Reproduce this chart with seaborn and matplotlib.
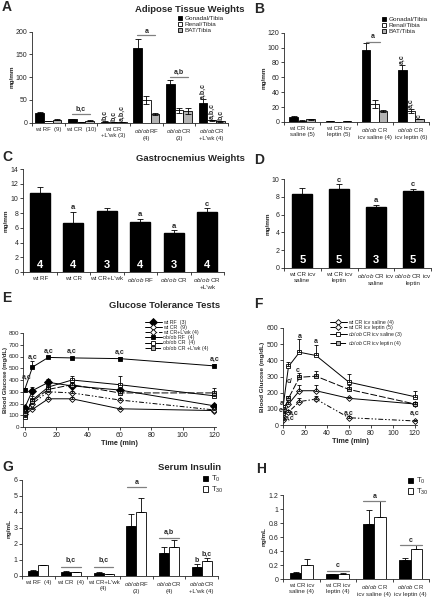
import numpy as np
import pandas as pd
import matplotlib
matplotlib.use("Agg")
import matplotlib.pyplot as plt
import seaborn as sns

# Style
sns.set_style("ticks")
plt.rcParams["font.family"] = ["Liberation Sans", "DejaVu Sans"]
plt.rcParams["mathtext.fontset"] = "custom"
plt.rcParams["mathtext.rm"] = "Liberation Sans"
plt.rcParams["mathtext.it"] = "Liberation Sans:italic"
plt.rcParams["axes.linewidth"] = 0.6

W, H = 432, 599
OB = r"$\it{ob/ob}$"

# ---- Data ----
# A: adipose weights (mg/mm)
a_groups = ["wt RF  (9)", "wt CR  (10)", "wt CR\n+L'wk (3)",
            OB + "RF\n(4)", OB + "CR\n(3)", OB + "CR\n+L'wk (4)"]
a_gonadal = [22, 8, 2.5, 165, 84, 44]
a_gonadal_err = [1.5, 1, 0.5, 20, 9, 7]
a_renal = [4, 1.5, 1, 50, 27, 5]
a_renal_err = [0.5, 0.3, 0.2, 9, 6, 1.5]
a_bat = [7, 4.5, 1, 19, 26, 3]
a_bat_err = [1, 0.5, 0.3, 2, 6, 0.5]

# B
b_groups = ["wt CR icv\nsaline (5)", "wt CR icv\nleptin (5)",
            OB + " CR\nicv saline (4)", OB + " CR\nicv leptin (6)"]
b_gonadal = [7, 1, 97, 70]
b_gonadal_err = [0.8, 0.2, 9, 6]
b_renal = [2, 0.5, 24, 15]
b_renal_err = [0.3, 0.1, 5, 3]
b_bat = [3.5, 1.5, 15, 4]
b_bat_err = [0.5, 0.3, 1.5, 0.5]

tissue_names = ["Gonadal/Tibia", "Renal/Tibia", "BAT/Tibia"]
tissue_colors = ["black", "white", "#b3b3b3"]

# C: gastrocnemius
c_groups = ["wt RF", "wt CR", "wt CR+L'wk", OB + " RF", OB + " CR", OB + " CR\n+L'wk"]
c_vals = [10.7, 6.7, 8.3, 6.8, 5.3, 8.2]
c_err = [0.9, 1.5, 0.45, 0.4, 0.4, 0.45]
c_n = [4, 4, 3, 4, 3, 4]
c_sig = ["", "a", "", "a", "a", "c"]

# D
d_groups = ["wt CR icv\nsaline", "wt CR icv\nleptin", OB + " CR icv\nsaline", OB + " CR icv\nleptin"]
d_vals = [8.3, 8.9, 6.85, 8.65]
d_err = [0.7, 0.5, 0.25, 0.25]
d_n = [5, 5, 3, 5]
d_sig = ["", "c", "a", "c"]

# E: GTT
times = [0, 5, 15, 30, 60, 120]
e_wt_rf = [160, 310, 380, 350, 315, 180]
e_wt_cr = [110, 150, 240, 240, 155, 140]
e_wt_crl = [130, 200, 300, 290, 230, 145]
e_ob_rf = [315, 510, 592, 588, 582, 520]
e_ob_cr = [85, 230, 340, 400, 360, 265]
e_ob_crl = [115, 220, 320, 360, 290, 290]
e_wt_rf_err = [20, 30, 30, 20, 30, 15]
e_wt_cr_err = [10, 10, 15, 15, 10, 10]
e_wt_crl_err = [10, 20, 20, 20, 15, 10]
e_ob_rf_err = [20, 50, 15, 10, 15, 20]
e_ob_cr_err = [10, 30, 40, 30, 70, 25]
e_ob_crl_err = [15, 20, 25, 20, 20, 40]
e_labels = ["wt RF  (3)", "wt CR  (9)", "wt CR+L'wk (4)", "ob/ob RF  (4)",
            "ob/ob CR  (4)", "ob/ob CR +L'wk (4)"]

# F
f_wt_sal = [40, 130, 212, 212, 165, 130]
f_wt_lep = [30, 80, 145, 160, 45, 25]
f_ob_sal = [110, 362, 450, 430, 265, 175]
f_ob_lep = [72, 165, 295, 302, 220, 130]
f_wt_sal_err = [5, 15, 35, 35, 10, 10]
f_wt_lep_err = [5, 10, 25, 20, 10, 5]
f_ob_sal_err = [15, 30, 80, 65, 50, 35]
f_ob_lep_err = [10, 15, 25, 30, 30, 10]
f_labels = ["wt CR icv saline (4)", "wt CR icv leptin (5)",
            OB + " CR icv saline (3)", OB + " CR icv leptin (4)"]

# G: serum insulin
g_groups = ["wt RF  (4)", "wt CR  (4)", "wt CR+L'wk\n(4)", OB + "RF\n(3)", OB + "CR\n(4)", OB + "CR\n+L'wk (4)"]
g_t0 = [0.32, 0.25, 0.2, 3.15, 1.45, 0.58]
g_t0_err = [0.05, 0.05, 0.07, 0.75, 0.35, 0.2]
g_t30 = [0.68, 0.22, 0.1, 3.97, 1.82, 0.92]
g_t30_err = [0.03, 0.05, 0.03, 0.9, 0.45, 0.22]

# H
h_groups = ["wt CR icv\nsaline (4)", "wt CR icv\nleptin (4)", OB + " CR\nicv saline (4)", OB + " CR\nicv leptin (4)"]
h_t0 = [0.09, 0.065, 0.79, 0.27]
h_t0_err = [0.01, 0.005, 0.2, 0.03]
h_t30 = [0.2, 0.07, 0.89, 0.43]
h_t30_err = [0.08, 0.02, 0.22, 0.05]

time_names = ["T$_0$", "T$_{30}$"]
time_colors = ["black", "white"]


def rect(x0, y0, x1, y1):
    return [x0 / W, 1 - y1 / H, (x1 - x0) / W, (y1 - y0) / H]


def style_ax(ax, ylabel, tsize=5, lsize=4.6):
    sns.despine(ax=ax)
    ax.tick_params(axis="y", labelsize=tsize, length=2, width=0.6, pad=1.2)
    ax.set_ylabel(ylabel, fontsize=lsize, weight="bold", labelpad=1.2)
    ax.set_xlabel("")


def excel_x(ax, n, size=4.3):
    ax.set_xlim(-0.5, n - 0.5)
    ax.set_xticks(np.arange(n + 1) - 0.5, minor=True)
    ax.tick_params(axis="x", which="major", length=0, labelsize=size, pad=3)
    ax.tick_params(axis="x", which="minor", length=2, width=0.6)


def grouped_bars(ax, groups, series, names, colors, width):
    rows = []
    for name, vals in zip(names, series):
        for g, v in zip(groups, vals):
            rows.append({"group": g, "series": name, "value": v})
    df = pd.DataFrame(rows)
    sns.barplot(data=df, x="group", y="value", hue="series", palette=colors,
                edgecolor="black", linewidth=0.6, width=width, errorbar=None, ax=ax)


def add_err(ax, errs, both=True, cap=1.5):
    conts = list(ax.containers)
    for cont, err in zip(conts, errs):
        xs = [b.get_x() + b.get_width() / 2 for b in cont]
        ys = [b.get_height() for b in cont]
        yerr = err if both else [np.zeros(len(err)), err]
        ax.errorbar(xs, ys, yerr=yerr, fmt="none", ecolor="black",
                    elinewidth=0.6, capsize=cap, capthick=0.6)


def bracket(ax, x0, x1, y, ytxt, txt):
    ax.plot([x0, x1], [y, y], color="#808080", lw=0.9)
    ax.text((x0 + x1) / 2, ytxt, txt, ha="center", va="center", fontsize=5, weight="bold")


def vtext(ax, x, y, txt):
    ax.text(x, y, txt, rotation=90, ha="center", va="bottom", fontsize=5, weight="bold")


def bar_legend(ax, loc_xy, fs=4.6):
    h, l = ax.get_legend_handles_labels()
    ax.legend(h, l, loc="upper left", bbox_to_anchor=loc_xy, bbox_transform=fig.transFigure,
              frameon=False, fontsize=fs, handlelength=0.7, handleheight=0.7,
              handletextpad=0.3, labelspacing=0.05, borderaxespad=0, borderpad=0)


fig = plt.figure(figsize=(W / 100, H / 100), dpi=100)

# ---- Titles and panel letters ----
for x, y, t in [(190, 9, "Adipose Tissue Weights"), (190, 158, "Gastrocnemius Weights"),
                (165, 305, "Glucose Tolerance Tests"), (190, 467, "Serum Insulin")]:
    fig.text(x / W, 1 - y / H, t, ha="center", va="center", fontsize=6.8, weight="bold")
for x, y, t in [(2, 7, "A"), (254, 9, "B"), (2, 157, "C"), (254, 160, "D"),
                (2, 298, "E"), (254, 304, "F"), (2, 467, "G"), (256, 469, "H")]:
    fig.text(x / W, 1 - y / H, t, ha="left", va="center", fontsize=10, weight="bold")

# ---- A ----
ax = fig.add_axes(rect(32, 31.7, 228, 122.7))
grouped_bars(ax, a_groups, [a_gonadal, a_renal, a_bat], tissue_names, tissue_colors, 0.8)
add_err(ax, [a_gonadal_err, a_renal_err, a_bat_err], both=True, cap=2.2)
ax.set_ylim(0, 200)
ax.set_yticks(range(0, 201, 50))
style_ax(ax, "mg/mm")
excel_x(ax, 6)
bar_legend(ax, (178 / W, 1 - 16 / H))
bracket(ax, 0.72, 1.28, 19, 29, "b,c")
bracket(ax, 2.72, 3.28, 193, 200, "a")
bracket(ax, 3.72, 4.28, 100, 110, "a,b")
for k, (yy, tt) in enumerate([(5, "b,c"), (3, "b,c"), (3, "a,b,c")]):
    vtext(ax, 2 + (k - 1) * 0.267, yy, tt)
for k, (yy, tt) in enumerate([(53, "a,b,c"), (8, "a,b,c"), (5, "b,c")]):
    vtext(ax, 5 + (k - 1) * 0.267, yy, tt)

# ---- B ----
ax = fig.add_axes(rect(284, 32.7, 429, 122))
grouped_bars(ax, b_groups, [b_gonadal, b_renal, b_bat], tissue_names, tissue_colors, 0.7)
add_err(ax, [b_gonadal_err, b_renal_err, b_bat_err], both=True, cap=2.2)
ax.set_ylim(0, 120)
ax.set_yticks(range(0, 121, 20))
style_ax(ax, "mg/mm")
excel_x(ax, 4)
bar_legend(ax, (382 / W, 1 - 17 / H))
bracket(ax, 1.77, 2.15, 108, 115, "a")
vtext(ax, 3 - 0.233, 78, "a,c")
vtext(ax, 3, 19, "a,c")
vtext(ax, 3 + 0.233, 6, "c")

# ---- C ----
ax = fig.add_axes(rect(23, 169, 224, 272))
sns.barplot(x=c_groups, y=c_vals, color="black", edgecolor="black", width=0.6,
            errorbar=None, ax=ax)
add_err(ax, [c_err], both=False, cap=2.5)
ax.set_ylim(0, 14)
ax.set_yticks(range(0, 15, 2))
style_ax(ax, "mg/mm")
excel_x(ax, 6, size=4.5)
for i, (n, s) in enumerate(zip(c_n, c_sig)):
    ax.text(i, 1.0, str(n), color="white", ha="center", va="center", fontsize=8, weight="bold")
    if s:
        ax.text(i, c_vals[i] + c_err[i] + 0.55, s, ha="center", va="center", fontsize=5.5, weight="bold")

# ---- D ----
ax = fig.add_axes(rect(284, 179, 431, 268))
sns.barplot(x=d_groups, y=d_vals, color="black", edgecolor="black", width=0.55,
            errorbar=None, ax=ax)
add_err(ax, [d_err], both=False, cap=2.5)
ax.set_ylim(0, 10)
ax.set_yticks(range(0, 11, 2))
style_ax(ax, "mg/mm")
excel_x(ax, 4, size=4.5)
for i, (n, s) in enumerate(zip(d_n, d_sig)):
    ax.text(i, 0.85, str(n), color="white", ha="center", va="center", fontsize=8, weight="bold")
    if s:
        ax.text(i, d_vals[i] + d_err[i] + 0.45, s, ha="center", va="center", fontsize=5.5, weight="bold")


def gtt_line(ax, vals, errs, label, marker, ms, face, ls):
    sns.lineplot(x=times, y=vals, ax=ax, color="black", lw=0.7, linestyle=ls, marker=marker,
                 markersize=ms, markerfacecolor=face, markeredgecolor="black",
                 markeredgewidth=0.6, label=label)
    ax.errorbar(times, vals, yerr=[np.zeros(len(errs)), errs], fmt="none", ecolor="black",
                elinewidth=0.6, capsize=1.5, capthick=0.6)


# ---- E ----
ax = fig.add_axes(rect(23, 333, 216, 427))
dashdot = (0, (5, 2, 1.5, 2, 1.5, 2))
longdash = (0, (7, 2))
gtt_line(ax, e_wt_rf, e_wt_rf_err, e_labels[0], "D", 4, "black", "-")
gtt_line(ax, e_wt_cr, e_wt_cr_err, e_labels[1], "D", 3, "white", "-")
gtt_line(ax, e_wt_crl, e_wt_crl_err, e_labels[2], "D", 3, "white", dashdot)
gtt_line(ax, e_ob_rf, e_ob_rf_err, e_labels[3], "s", 3.5, "black", "-")
gtt_line(ax, e_ob_cr, e_ob_cr_err, e_labels[4], "s", 3.5, "white", "-")
gtt_line(ax, e_ob_crl, e_ob_crl_err, e_labels[5], "s", 3.5, "#b3b3b3", longdash)
ax.set_xlim(-1, 121)
ax.set_ylim(0, 800)
ax.set_xticks(range(0, 121, 20))
ax.set_yticks(range(0, 801, 100))
style_ax(ax, "Blood Glucose (mg/dL)", tsize=4.5, lsize=4.3)
ax.yaxis.labelpad = 0.5
ax.tick_params(axis="y", pad=0.8)
ax.tick_params(axis="x", labelsize=5, length=2, width=0.6, pad=1.5)
ax.set_xlabel("Time (min)", fontsize=5.2, weight="bold", labelpad=0.5)
ax.legend(loc="upper left", bbox_to_anchor=(145 / W, 1 - 320 / H), bbox_transform=fig.transFigure,
          frameon=False, fontsize=3.8, handlelength=3.2, labelspacing=0.02,
          handletextpad=0.3, borderaxespad=0, borderpad=0)
for t, y in [(1, 425), (5, 590), (15, 640), (30, 640), (60, 635), (120, 575)]:
    ax.text(t, y, "a,c", ha="center", va="center", fontsize=5, weight="bold")

# ---- F ----
ax = fig.add_axes(rect(283, 328, 417, 425))
gtt_line(ax, f_wt_sal, f_wt_sal_err, f_labels[0], "D", 3, "white", "-")
gtt_line(ax, f_wt_lep, f_wt_lep_err, f_labels[1], "D", 3, "white", dashdot)
gtt_line(ax, f_ob_sal, f_ob_sal_err, f_labels[2], "s", 3.5, "white", "-")
gtt_line(ax, f_ob_lep, f_ob_lep_err, f_labels[3], "s", 3.5, "#b3b3b3", longdash)
ax.set_xlim(0, 122)
ax.set_ylim(0, 600)
ax.set_xticks(range(0, 121, 20))
ax.set_yticks(range(0, 601, 100))
style_ax(ax, "Blood Glucose (mg/dL)")
ax.tick_params(axis="x", labelsize=5, length=2, width=0.6, pad=1.5)
ax.set_xlabel("Time (min)", fontsize=5.2, weight="bold", labelpad=0.5)
ax.legend(loc="upper left", bbox_to_anchor=(330 / W, 1 - 320 / H), bbox_transform=fig.transFigure,
          frameon=False, fontsize=3.8, handlelength=3.2, labelspacing=0.02,
          handletextpad=0.3, borderaxespad=0, borderpad=0)
for t, y, s in [(15, 545, "a"), (30, 515, "a"), (13, 335, "c"), (6, 270, "c/"),
                (30, 150, "c"), (60, 75, "a,c"), (120, 75, "a,c"),
                (-1, 130, "a"), (-2, 92, "c"), (10, 75, "a,c"), (6, 40, "a,c")]:
    ax.text(t, y, s, ha="center", va="center", fontsize=5, weight="bold", clip_on=False)

# ---- G ----
ax = fig.add_axes(rect(22, 480, 218, 576))
grouped_bars(ax, g_groups, [g_t0, g_t30], time_names, time_colors, 0.62)
add_err(ax, [g_t0_err, g_t30_err], both=False, cap=2)
ax.set_ylim(0, 6)
ax.set_yticks(range(0, 7))
style_ax(ax, "ng/mL")
excel_x(ax, 6)
bar_legend(ax, (203 / W, 1 - 474 / H), fs=5.5)
bracket(ax, 0.7, 1.3, 0.55, 0.95, "b,c")
bracket(ax, 1.7, 2.3, 0.55, 0.95, "b,c")
bracket(ax, 2.7, 3.3, 5.55, 5.85, "a")
bracket(ax, 3.7, 4.3, 2.35, 2.7, "a,b")
ax.text(5 - 0.155, 0.98, "b", ha="center", va="center", fontsize=5, weight="bold")
ax.text(5 + 0.155, 1.38, "b,c", ha="center", va="center", fontsize=5, weight="bold")

# ---- H ----
ax = fig.add_axes(rect(283, 495, 429, 579))
grouped_bars(ax, h_groups, [h_t0, h_t30], time_names, time_colors, 0.63)
add_err(ax, [h_t0_err, h_t30_err], both=False, cap=2)
ax.set_ylim(0, 1.2)
ax.set_yticks(np.arange(0, 1.21, 0.2))
ax.set_yticklabels(["0", "0.2", "0.4", "0.6", "0.8", "1", "1.2"])
style_ax(ax, "ng/mL")
excel_x(ax, 4)
bar_legend(ax, (408 / W, 1 - 476 / H), fs=5.5)
bracket(ax, 0.7, 1.3, 0.12, 0.19, "c")
bracket(ax, 1.7, 2.3, 1.12, 1.18, "a")
bracket(ax, 2.7, 3.3, 0.49, 0.55, "c")

fig.savefig("out.png", dpi=100)
